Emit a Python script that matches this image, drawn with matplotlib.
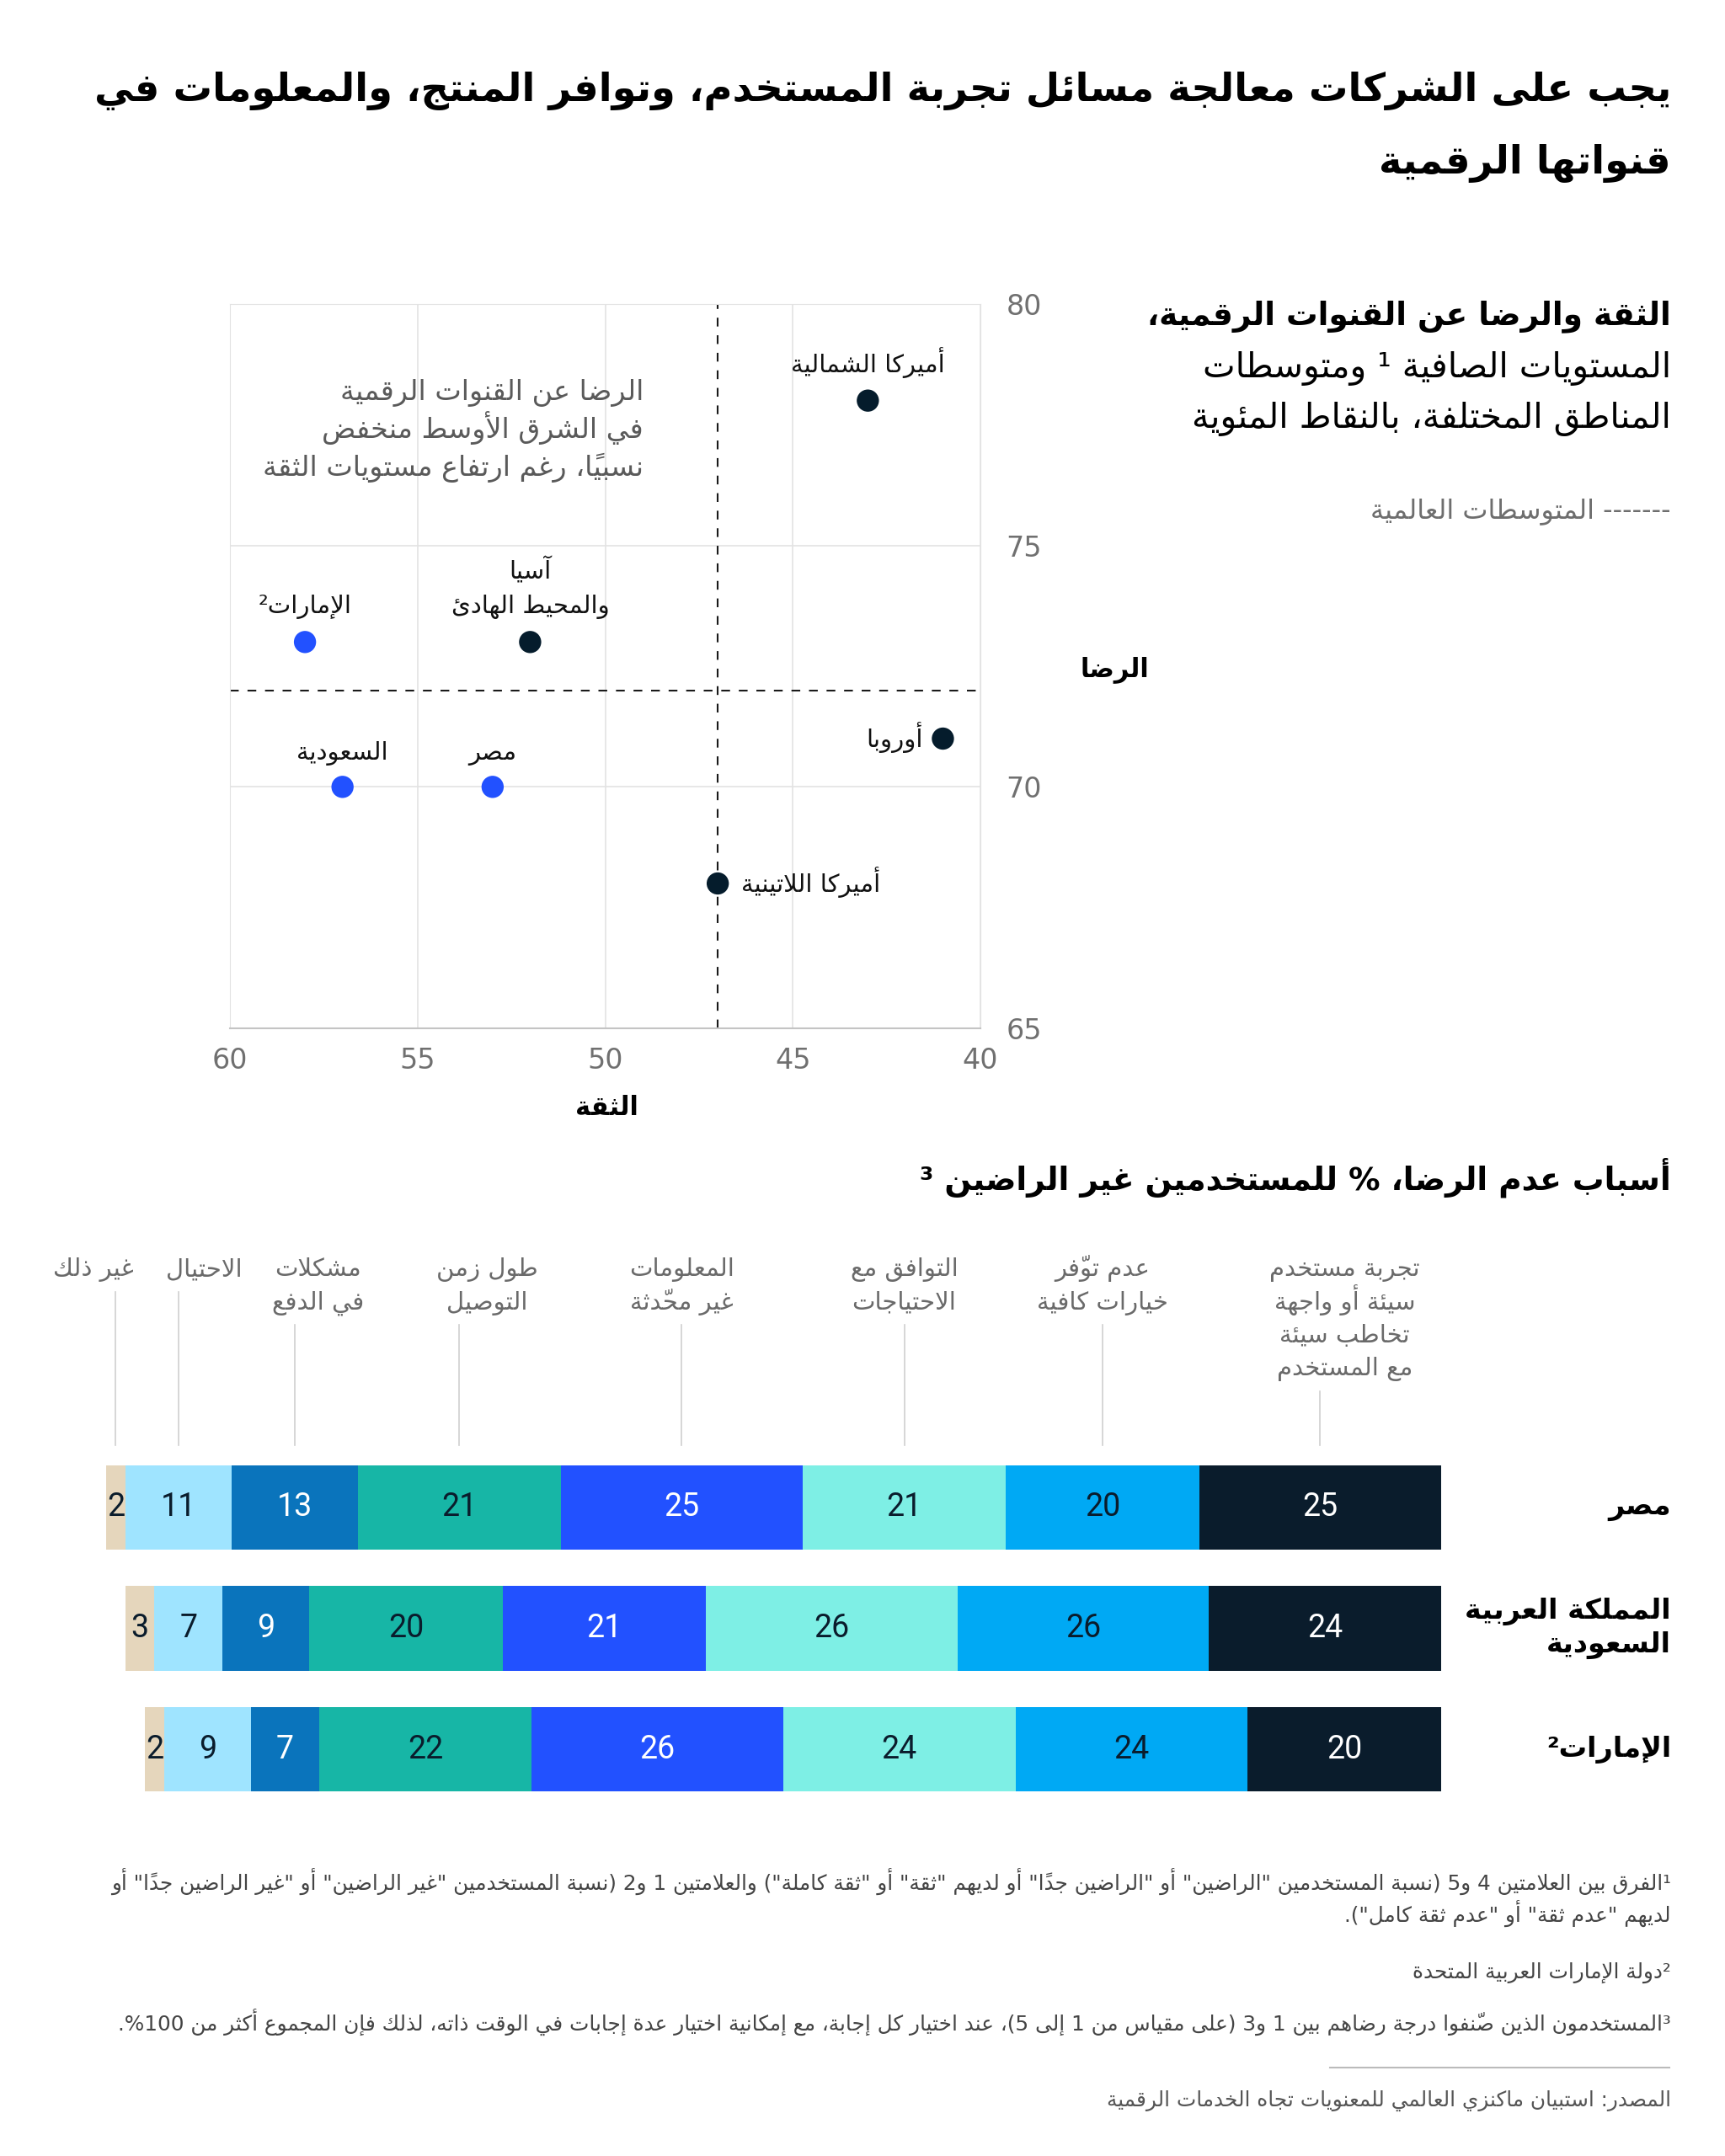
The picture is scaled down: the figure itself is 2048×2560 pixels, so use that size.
import re
import matplotlib
matplotlib.use('Agg')
import matplotlib.pyplot as plt
from matplotlib.transforms import blended_transform_factory, offset_copy

plt.rcParams['font.family'] = ['DejaVu Sans']

# --- matplotlib has no Arabic shaping / bidi, so do a small one here ---
_letters = 'ءآأؤإئابةتثجحخدذرزسشصضطظعغفقكلمنهوىي'
_nforms = [1, 2, 2, 2, 2, 4, 2, 4, 2, 4, 4, 4, 4, 4, 2, 2, 2, 2] + [4] * 15 + [2, 2, 4]
FORMS = {}
_c = 0xFE80
for _ch, _n in zip(_letters, _nforms):
    FORMS[_ch] = [chr(_c + k) for k in range(_n)]
    _c += _n
LAMALEF = {'آ': 0xFEF5, 'أ': 0xFEF7, 'إ': 0xFEF9, 'ا': 0xFEFB}
MIRROR = {'(': ')', ')': '('}


def is_mark(ch):
    return '\u064B' <= ch <= '\u0652' or ch == '\u0670'


def dual(ch):
    return ch is not None and ch in FORMS and len(FORMS[ch]) == 4


def joins(ch):
    return ch is not None and ch in FORMS and len(FORMS[ch]) > 1


def shape(s):
    n = len(s)
    out = []

    def nb(k, step):
        k += step
        while 0 <= k < n and is_mark(s[k]):
            k += step
        return s[k] if 0 <= k < n else None

    i = 0
    while i < n:
        ch = s[i]
        if ch not in FORMS:
            out.append(ch)
            i += 1
            continue
        prev, nxt = nb(i, -1), nb(i, 1)
        jp = dual(prev) and joins(ch)
        if ch == 'ل' and nxt in LAMALEF:
            out.append(chr(LAMALEF[nxt] + (1 if jp else 0)))
            k = i + 1
            while is_mark(s[k]):
                out.append(s[k])
                k += 1
            i = k + 1
            continue
        jn = dual(ch) and joins(nxt)
        idx = 3 if (jp and jn) else 1 if jp else 2 if jn else 0
        f = FORMS[ch]
        out.append(f[idx] if idx < len(f) else f[0])
        i += 1
    return ''.join(out)


def ar(text):
    res = []
    for line in text.split('\n'):
        units = re.findall(r'[0-9]+|.[\u064B-\u0652\u0670]*', shape(line))
        res.append(''.join(MIRROR.get(u, u) for u in reversed(units)))
    return '\n'.join(res)


# ---------------- data ----------------
regions = ['أميركا الشمالية', 'آسيا\nوالمحيط الهادئ', 'الإمارات²', 'أوروبا',
           'السعودية', 'مصر', 'أميركا اللاتينية']
trust = [43, 52, 58, 41, 57, 53, 47]
satisfaction = [78, 73, 73, 71, 70, 70, 68]
middle_east = [False, False, True, False, True, True, False]
global_trust = 47
global_sat = 72

reasons = ['تجربة مستخدم\nسيئة أو واجهة\nتخاطب سيئة\nمع المستخدم',
           'عدم توفّر\nخيارات كافية',
           'التوافق مع\nالاحتياجات',
           'المعلومات\nغير محدّثة',
           'طول زمن\nالتوصيل',
           'مشكلات\nفي الدفع',
           'الاحتيال',
           'غير ذلك']
countries = ['مصر', 'المملكة العربية\nالسعودية', 'الإمارات²']
egypt = [25, 20, 21, 25, 21, 13, 11, 2]
saudi = [24, 26, 26, 21, 20, 9, 7, 3]
uae = [20, 24, 24, 26, 22, 7, 9, 2]

NAVY = '#051C2C'
BLUE = '#2251FF'
seg_colors = ['#0A1C2C', '#00A9F4', '#7EEFE5', '#2251FF', '#17B6A6', '#0A74BC', '#9FE4FF', '#E5D6BC']
seg_text = ['white', '#0A1C2C', '#0A1C2C', 'white', '#0A1C2C', 'white', '#0A1C2C', '#0A1C2C']

W, H = 2048, 2560
fig = plt.figure(figsize=(W / 100, H / 100), dpi=100)


def fx(px):
    return px / W


def fy(py):
    return 1 - py / H


# ---------------- title ----------------
title_lines = ['يجب على الشركات معالجة مسائل تجربة المستخدم، وتوافر المنتج، والمعلومات في',
               'قنواتها الرقمية']
for line, y in zip(title_lines, [108, 194]):
    fig.text(fx(1984), fy(y), ar(line), ha='right', va='center', fontsize=33.4,
             fontweight='bold', color='black')

# ---------------- scatter ----------------
sub_lines = ['الثقة والرضا عن القنوات الرقمية،', 'المستويات الصافية ¹ ومتوسطات',
             'المناطق المختلفة، بالنقاط المئوية']
for k, (line, y) in enumerate(zip(sub_lines, [376, 438, 498])):
    fig.text(fx(1984), fy(y), ar(line), ha='right', va='center',
             fontsize=27 if k == 0 else 29.5,
             fontweight='bold' if k == 0 else 'normal', color='black')
fig.text(fx(1984), fy(607), ar('------- المتوسطات العالمية'), ha='right', va='center',
         fontsize=23, color='#6E6E6E')

ax = fig.add_axes([fx(273), fy(1221), fx(1164) - fx(273), (1221 - 361) / H])
ax.set_xlim(60, 40)
ax.set_ylim(65, 80)
ax.set_xticks([60, 55, 50, 45, 40])
ax.set_yticks([65, 70, 75, 80])
ax.grid(color='#E3E3E3', lw=1.2)
ax.set_axisbelow(True)
for s in ['left', 'top', 'right']:
    ax.spines[s].set_color('#E3E3E3')
ax.spines['bottom'].set_color('#C4C4C4')
ax.spines['bottom'].set_linewidth(1.5)
ax.yaxis.tick_right()
ax.tick_params(axis='y', length=0, labelsize=24, labelcolor='#707070', pad=22)
ax.tick_params(axis='x', length=0, labelsize=24, labelcolor='#707070', pad=16)

ax.axvline(global_trust, color='#1A1A1A', lw=1.5, ls=(0, (5, 5)), zorder=2)
ax.axhline(global_sat, color='#1A1A1A', lw=1.5, ls=(0, (5, 5)), zorder=2)

ax.scatter(trust, satisfaction, s=360,
           c=[BLUE if m else NAVY for m in middle_east], zorder=4, linewidths=0)

# label placement: (dx px, dy px of first line baseline, ha, va)
label_pos = [(0, 34, 'center', 'baseline'), (0, 75, 'center', 'baseline'),
             (0, 34, 'center', 'baseline'), (-24, -10, 'right', 'baseline'),
             (0, 32, 'center', 'baseline'), (0, 32, 'center', 'baseline'),
             (28, -10, 'left', 'baseline')]
for name, xv, yv, (dx, dy, ha, va) in zip(regions, trust, satisfaction, label_pos):
    for k, part in enumerate(name.split('\n')):
        ax.annotate(ar(part), (xv, yv), xytext=(dx, dy - 41 * k), textcoords='offset pixels',
                    ha=ha, va=va, fontsize=21, color='#111111')

note = 'الرضا عن القنوات الرقمية\nفي الشرق الأوسط منخفض\nنسبياً، رغم ارتفاع مستويات الثقة'
for k, part in enumerate(note.split('\n')):
    fig.text(fx(764), fy(475 + 45 * k), ar(part), ha='right', va='baseline',
             fontsize=24, color='#5A5A5A')

fig.text(fx(1323), fy(795), ar('الرضا'), ha='center', va='center', fontsize=22,
         fontweight='bold')
fig.text(fx(720), fy(1316), ar('الثقة'), ha='center', va='center', fontsize=22,
         fontweight='bold')

# ---------------- stacked bars ----------------
fig.text(fx(1984), fy(1398), ar('أسباب عدم الرضا، % للمستخدمين غير الراضين ³'),
         ha='right', va='center', fontsize=27, fontweight='bold')

bx = fig.add_axes([fx(126), fy(2149), fx(1711) - fx(126), (2149 - 1718) / H])
rows = [egypt, saudi, uae]
bx.set_xlim(sum(egypt), 0)
bx.set_ylim(2.5, -0.5)
bx.axis('off')

for r, vals in enumerate(rows):
    left = 0
    for j, v in enumerate(vals):
        bx.barh(r, v, left=left, height=0.7, color=seg_colors[j], linewidth=0)
        bx.text(left + v / 2, r, str(v), ha='center', va='center', fontsize=27,
                color=seg_text[j], family=['Roboto', 'DejaVu Sans'])
        left += v

trans = blended_transform_factory(bx.transData, fig.transFigure)
label_dx = [29, 0, 0, 0, 33, 28, 30, -27]
left = 0
for j, (lab, v) in enumerate(zip(reasons, egypt)):
    xc = left + v / 2
    left += v
    parts = lab.split('\n')
    tr = offset_copy(trans, fig=fig, x=label_dx[j], units='dots')
    for k, part in enumerate(parts):
        bx.text(xc, fy(1515 + 39.5 * k), ar(part), transform=tr, ha='center',
                va='baseline', fontsize=21, color='#6A6A6A')
    bx.plot([xc, xc], [fy(1488 + len(parts) * 39.5 + 6), fy(1716)], transform=trans,
            color='#CFCFCF', lw=1.2, clip_on=False)

ctrans = blended_transform_factory(fig.transFigure, bx.transData)
for r, name in enumerate(countries):
    bx.text(fx(1984), r, ar(name), transform=ctrans, ha='right', va='center',
            multialignment='right', fontsize=24, fontweight='bold', linespacing=1.25)

# ---------------- footnotes ----------------
notes = [('¹الفرق بين العلامتين 4 و5 (نسبة المستخدمين "الراضين" أو "الراضين جداً" أو لديهم "ثقة" أو "ثقة كاملة") والعلامتين 1 و2 (نسبة المستخدمين "غير الراضين" أو "غير الراضين جداً" أو', 2234),
         ('لديهم "عدم ثقة" أو "عدم ثقة كامل").', 2272),
         ('²دولة الإمارات العربية المتحدة', 2342),
         ('³المستخدمون الذين صنّفوا درجة رضاهم بين 1 و3 (على مقياس من 1 إلى 5)، عند اختيار كل إجابة، مع إمكانية اختيار عدة إجابات في الوقت ذاته، لذلك فإن المجموع أكثر من 100%.', 2401)]
for txt, y in notes:
    fig.text(fx(1984), fy(y), ar(txt), ha='right', va='center', fontsize=17.8, color='#444444')

fig.add_artist(plt.Line2D([fx(1579), fx(1982)], [fy(2455), fy(2455)], color='#BBBBBB', lw=1.5))
fig.text(fx(1984), fy(2494), ar('المصدر: استبيان ماكنزي العالمي للمعنويات تجاه الخدمات الرقمية'),
         ha='right', va='center', fontsize=17.8, color='#555555')

fig.savefig('out.png', dpi=100, facecolor='white')
